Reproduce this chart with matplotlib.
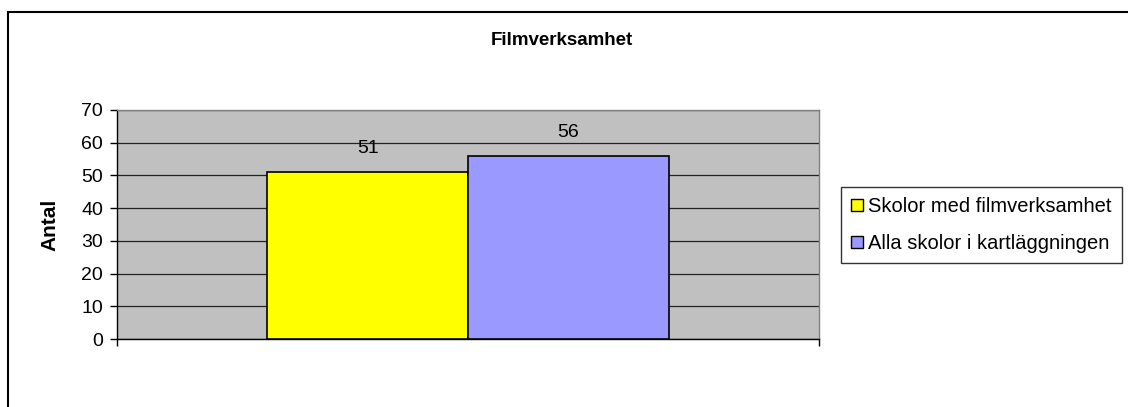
import matplotlib
matplotlib.use("Agg")
import matplotlib.pyplot as plt
from matplotlib.patches import Rectangle, Patch

plt.rcParams['font.family'] = ['Liberation Sans', 'DejaVu Sans']

title = "Filmverksamhet"
ylabel = "Antal"
series_names = ["Skolor med filmverksamhet", "Alla skolor i kartläggningen"]
series_values = [51, 56]
series_colors = ["#FFFF00", "#9999FF"]
yticks = [0, 10, 20, 30, 40, 50, 60, 70]

W, H = 1128, 407
fig = plt.figure(figsize=(W / 100, H / 100), dpi=100)
fig.patch.set_facecolor("white")

# outer chart border
fig.add_artist(Rectangle((8 / W, -0.1), 1.2, 1 - 12 / H + 0.1, transform=fig.transFigure,
                         fill=False, edgecolor="#000000", linewidth=1.5))

ax = fig.add_axes([117 / W, (H - 339) / H, 702 / W, 229 / H])
ax.set_facecolor("#C0C0C0")

bar_w = 0.286
offsets = [-bar_w / 2, bar_w / 2]
for off, v, c in zip(offsets, series_values, series_colors):
    ax.bar(off, v, width=bar_w, color=c, edgecolor="black", linewidth=1.2, zorder=3)
    ax.annotate(str(v), (off, v), xytext=(0, 13.5), textcoords="offset points",
                ha="center", va="baseline", fontsize=14, zorder=4)

ax.set_xlim(-0.5, 0.5)
ax.set_ylim(0, 70)
ax.set_yticks(yticks)
ax.set_yticklabels([str(t) for t in yticks], fontsize=14)
ax.yaxis.grid(True, color="#222222", linewidth=0.9, zorder=1)
ax.set_axisbelow(True)
ax.set_xticks([])
ax.set_xticks([-0.5, 0.5], minor=True)
ax.tick_params(axis="x", which="minor", length=5, width=1, color="black", direction="out")
ax.tick_params(axis="y", length=5, width=1, color="black", direction="out", pad=5)

for s in ["left", "bottom"]:
    ax.spines[s].set_color("#000000")
    ax.spines[s].set_linewidth(1)
for s in ["top", "right"]:
    ax.spines[s].set_color("#808080")
    ax.spines[s].set_linewidth(1)

fig.text(562 / W, 1 - 45 / H, title, ha="center", va="baseline", fontsize=13.5, fontweight="bold")
fig.text(50 / W, 1 - 225 / H, ylabel, ha="center", va="center", rotation=90,
         fontsize=15, fontweight="bold")

handles = [Patch(facecolor=c, edgecolor="black", linewidth=1) for c in series_colors]
leg = fig.legend(handles, series_names, loc="upper left",
                 bbox_to_anchor=(841 / W, 1 - 187 / H), bbox_transform=fig.transFigure,
                 fontsize=14.5, frameon=True, fancybox=False, shadow=False,
                 handlelength=0.6, handleheight=0.6, handletextpad=0.25,
                 labelspacing=0.9, borderpad=0.5, borderaxespad=0)
leg.get_frame().set_edgecolor("black")
leg.get_frame().set_linewidth(1)

fig.savefig("out.png", dpi=100)
